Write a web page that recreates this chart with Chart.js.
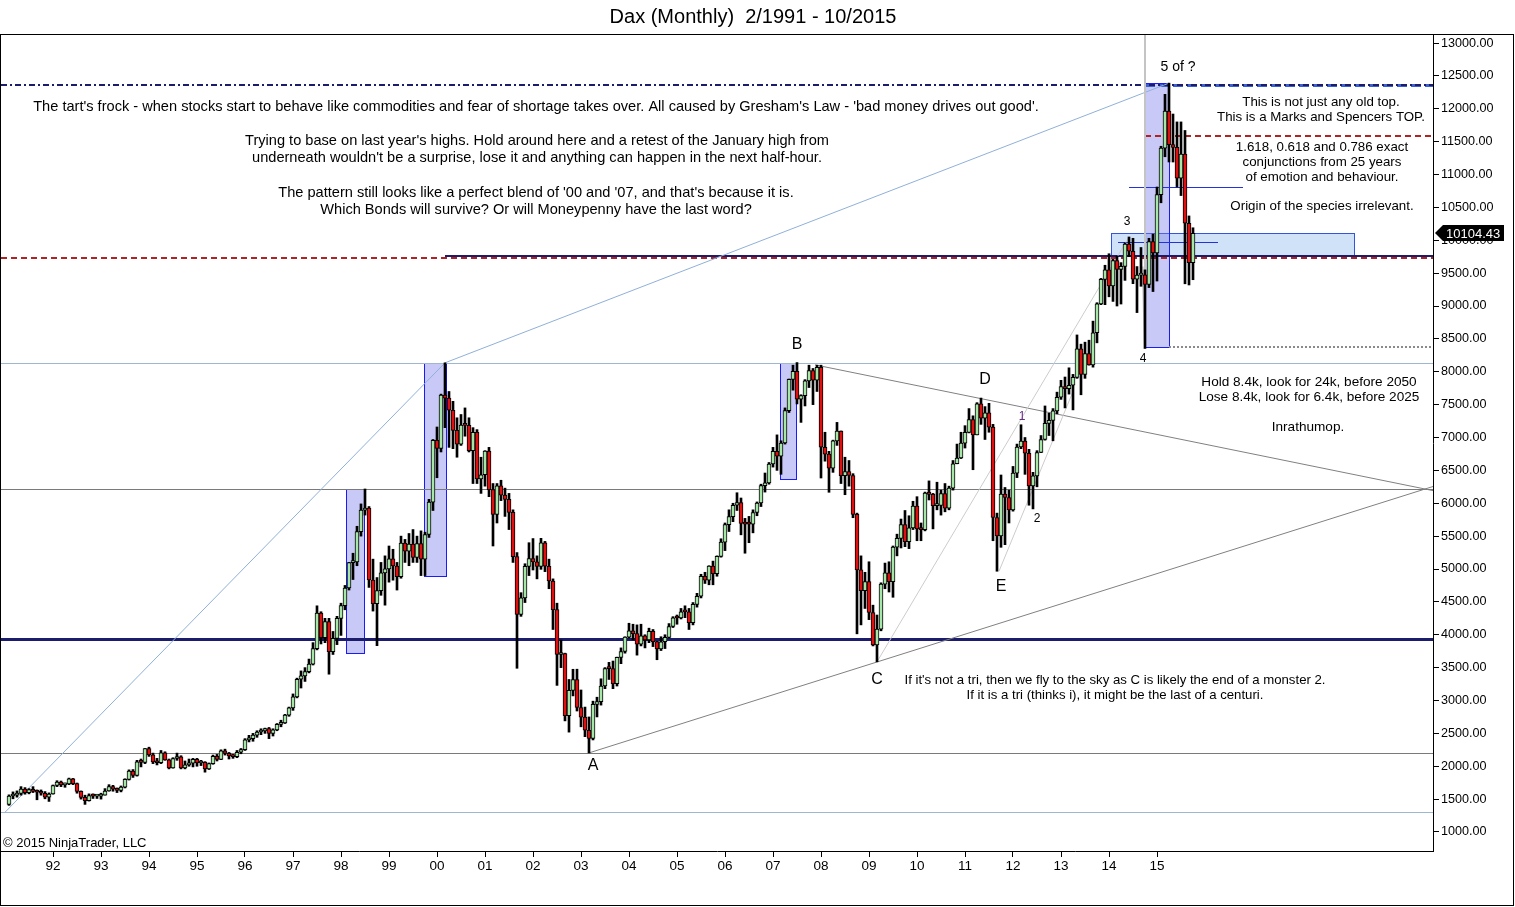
<!DOCTYPE html>
<html>
<head>
<meta charset="utf-8">
<title>Dax (Monthly)</title>
<script src="https://cdn.jsdelivr.net/npm/chart.js@4.4.0/dist/chart.umd.min.js"></script>
<style>
  html,body{margin:0;padding:0;background:#fff;}
  #wrap{width:1515px;height:907px;}
</style>
</head>
<body>
<div id="wrap"><canvas id="dax" width="1515" height="907"></canvas></div>
<script>
// Dados mensais 2/1991 - 10/2015 (uma linha por ano)
const opens = [
  1420,1547,1562,1585,1651,1598,1645,1618,1605,1589,1531,
  1578,1707,1761,1716,1730,1807,1735,1618,1527,1478,1553,1545,
  1545,1562,1624,1692,1650,1634,1683,1800,1925,1859,2068,2058,
  2267,2174,2065,2053,2204,2097,1975,2118,2143,1973,2020,2046,
  2107,2050,2058,1960,2041,2149,2105,2235,2195,2158,2146,2213,
  2254,2402,2418,2473,2521,2538,2573,2500,2553,2637,2658,2778,
  2889,3056,3323,3375,3438,3554,3788,4330,3955,4199,3744,3944,
  4250,4442,4711,5096,5107,5569,5896,5926,4833,4474,4671,4941,
  5002,5154,5046,4884,5394,5273,5378,5175,5386,5150,5525,6017,
  6958,6835,7644,7599,7414,7109,6898,7189,7185,6798,7077,6372,
  6434,6795,6208,5830,6265,6123,6058,5862,5188,4308,4560,5040,
  5160,5108,5039,5397,5042,4818,4383,3700,3712,2769,3153,3320,
  2893,2747,2547,2424,2942,2983,3221,3487,3484,3257,3655,3745,
  3965,4058,4018,3857,3985,3921,4052,3895,3785,3893,3960,4126,
  4256,4255,4350,4349,4185,4461,4586,4887,4830,5044,4929,5193,
  5408,5674,5797,5970,6009,5692,5683,5682,5859,6004,6269,6309,
  6597,6789,6715,6917,7409,7883,8007,7584,7638,7862,8019,7871,
  8067,6852,6748,6535,6949,7097,6418,6480,6422,5831,4988,4669,
  4810,4338,3844,4085,4770,4941,4809,5332,5465,5675,5415,5625,
  5957,5608,5598,6154,6136,5965,5966,6148,5925,6229,6601,6688,
  6914,7077,7273,7041,7514,7294,7376,7159,5784,5502,6141,6088,
  5898,6458,6856,6947,6761,6264,6416,6772,6970,7216,7260,7406,
  7612,7776,7742,7795,7914,8349,7959,8276,8103,8594,9033,9406,
  9552,9306,9692,9556,9603,9943,9833,9407,9470,9474,9327,9980,
  9806,10694,11402,11966,11454,11414,10945,11309,10259,9660
];
const highs = [
  1565,1610,1625,1690,1675,1660,1690,1640,1640,1615,1595,
  1715,1780,1775,1745,1820,1815,1745,1625,1560,1580,1580,1570,
  1590,1660,1720,1710,1670,1700,1810,1945,1950,2090,2110,2270,
  2290,2200,2120,2240,2220,2110,2130,2200,2160,2080,2110,2120,
  2120,2090,2070,2050,2170,2180,2250,2260,2210,2180,2240,2270,
  2420,2470,2500,2540,2570,2580,2590,2570,2650,2700,2790,2900,
  3100,3340,3450,3500,3630,3880,4440,4350,4250,4250,4050,4280,
  4480,4750,5100,5240,5650,5990,6217,5950,5150,4870,5100,5200,
  5350,5300,5100,5500,5450,5540,5600,5500,5580,5560,6060,6970,
  7160,7660,8136,7700,7550,7300,7350,7450,7300,7150,7120,6700,
  6800,6850,6300,6300,6350,6230,6150,5900,5250,4640,5080,5400,
  5463,5200,5467,5420,5150,4850,4480,3920,3720,3320,3475,3476,
  3160,2900,2750,2990,3050,3330,3500,3580,3600,3660,3800,3970,
  4175,4160,4150,4160,4000,4100,4080,3900,3970,4000,4170,4275,
  4300,4400,4440,4400,4490,4630,4920,4950,5050,5120,5200,5460,
  5700,5900,6000,6160,6080,5770,5800,5900,6020,6290,6460,6620,
  6850,7040,6950,7450,7890,8100,8140,7650,7880,8100,8050,8100,
  8100,7080,6790,6960,7230,7100,6700,6650,6450,5850,5200,4950,
  5110,4450,4300,4790,5090,5110,5350,5530,5760,5890,5810,6030,
  6100,5700,6170,6340,6150,6320,6200,6300,6260,6650,6900,7080,
  7180,7440,7330,7530,7600,7470,7520,7200,5850,6430,6240,6200,
  6560,6900,7194,7000,6820,6470,6800,7030,7480,7370,7440,7690,
  7870,7920,8060,7960,8560,8420,8450,8480,8770,9050,9420,9620,
  9795,9710,9760,9660,9960,10050,10030,9600,9890,9550,10030,10093,
  10810,11430,12220,12390,11920,11800,11800,11670,10370,10190
];
const lows = [
  1405,1505,1530,1560,1575,1580,1600,1490,1560,1505,1465,
  1575,1690,1690,1680,1720,1720,1590,1500,1420,1470,1510,1510,
  1500,1560,1620,1620,1600,1610,1670,1790,1830,1850,1990,2040,
  2150,2040,2020,2040,2090,1960,1970,2090,1960,1960,2000,1990,
  2000,2010,1910,1950,2030,2080,2100,2170,2110,2120,2130,2190,
  2240,2370,2380,2440,2480,2500,2420,2460,2540,2600,2650,2760,
  2850,3040,3190,3290,3420,3540,3770,3860,3880,3400,3700,3850,
  3990,4380,4680,4840,5050,5500,5820,4720,4360,3834,4600,4450,
  4800,4830,4680,4860,5100,5050,5100,5100,4900,4900,5480,5890,
  6388,6780,7150,6850,6830,6700,6880,7020,6780,6300,6300,6150,
  6260,6100,5350,5700,6040,5800,5600,5100,3490,4280,4490,4900,
  4985,4850,4995,4960,4700,4080,3230,3500,2690,2519,3070,2840,
  2600,2450,2203,2400,2750,2930,3180,3320,3180,3220,3560,3720,
  3950,3920,3690,3830,3800,3880,3820,3620,3760,3790,3950,4110,
  4160,4240,4260,4080,4150,4420,4560,4780,4760,4760,4890,5180,
  5280,5570,5720,5890,5520,5240,5400,5550,5810,5950,6170,6290,
  6550,6500,6440,6900,7380,7720,7510,7230,7480,7760,7500,7700,
  6384,6640,6167,6470,6880,6300,6130,6260,5780,4014,4150,4400,
  4230,3830,3588,4060,4700,4650,4570,5200,5320,5340,5310,5600,
  5430,5430,5580,6050,5610,5900,5820,5870,5900,6200,6600,6680,
  6840,7070,6510,7040,7200,6970,7080,5430,4966,5330,5370,5700,
  5880,6390,6830,6440,5970,5914,6250,6770,6960,7030,6950,7360,
  7580,7450,7660,7420,7900,7650,7900,8100,8070,8440,9020,9020,
  9140,9070,9000,9030,9390,9750,9340,8900,9300,8355,9280,9220,
  9380,10570,11270,11190,11190,10810,10680,9338,9320,9400
];
const closes = [
  1547,1562,1585,1651,1598,1645,1618,1605,1589,1531,1578,
  1707,1761,1716,1730,1807,1735,1618,1527,1478,1553,1545,1545,
  1562,1624,1692,1650,1634,1683,1800,1925,1859,2068,2058,2267,
  2174,2065,2053,2204,2097,1975,2118,2143,1973,2020,2046,2107,
  2050,2058,1960,2041,2149,2105,2235,2195,2158,2146,2213,2254,
  2402,2418,2473,2521,2538,2573,2500,2553,2637,2658,2778,2889,
  3056,3323,3375,3438,3554,3788,4330,3955,4199,3744,3944,4250,
  4442,4711,5096,5107,5569,5896,5926,4833,4474,4671,4941,5002,
  5154,5046,4884,5394,5273,5378,5175,5386,5150,5525,6017,6958,
  6835,7644,7599,7414,7109,6898,7189,7185,6798,7077,6372,6434,
  6795,6208,5830,6265,6123,6058,5862,5188,4308,4560,5040,5160,
  5108,5039,5397,5042,4818,4383,3700,3712,2769,3153,3320,2893,
  2747,2547,2424,2942,2983,3221,3487,3484,3257,3655,3745,3965,
  4058,4018,3857,3985,3921,4052,3895,3785,3893,3960,4126,4256,
  4255,4350,4349,4185,4461,4586,4887,4830,5044,4929,5193,5408,
  5674,5797,5970,6009,5692,5683,5682,5859,6004,6269,6309,6597,
  6789,6715,6917,7409,7883,8007,7584,7638,7862,8019,7871,8067,
  6852,6748,6535,6949,7097,6418,6480,6422,5831,4988,4669,4810,
  4338,3844,4085,4770,4941,4809,5332,5465,5675,5415,5625,5957,
  5608,5598,6154,6136,5965,5966,6148,5925,6229,6601,6688,6914,
  7077,7273,7041,7514,7294,7376,7159,5784,5502,6141,6088,5898,
  6458,6856,6947,6761,6264,6416,6772,6970,7216,7260,7406,7612,
  7776,7742,7795,7914,8349,7959,8276,8103,8594,9033,9406,9552,
  9306,9692,9556,9603,9943,9833,9407,9470,9474,9327,9980,9806,
  10694,11402,11966,11454,11414,10945,11309,10259,9660,10104.43
];

// Eixos
const yearLabels = ['92','93','94','95','96','97','98','99','00','01','02','03',
                    '04','05','06','07','08','09','10','11','12','13','14','15'];
const yearMonths = [11,23,35,47,59,71,83,95,107,119,131,143,
                    155,167,179,191,203,215,227,239,251,263,275,287];
const priceTicks = [1000,1500,2000,2500,3000,3500,4000,4500,5000,5500,6000,6500,
                    7000,7500,8000,8500,9000,9500,10000,10500,11000,11500,12000,12500,13000];
const lastPrice = 10104.43;

// Linhas horizontais: [nivel, mes ini, mes fim, cor, largura, tracejado]
const levelLines = [
  [8136, -2, 356, '#9fb6cf', 1, []],
  [6217, -2, 356, '#7a7a7a', 1, []],
  [2203, -2, 356, '#7a7a7a', 1, []],
  [1304, -2, 356, '#9fb6cf', 1, []],
  [3935, -2, 356, '#1c1c6c', 3, []],
  [9737, -2, 356, '#b22222', 2, [6,4]],
  [9760, 109, 356, '#1c1c6c', 2, []],
  [12362, 284, 356, '#3a5fd0', 3, [10,4]],
  [12362, -2, 356, '#1c1c6c', 2, [6,3,2,3]],
  [11586, 284, 356, '#b22222', 2, [6,4]],
  [8376, 290, 356, '#8a8a8a', 2, [2,2]],
  [10810, 280, 308.5, '#2233dd', 1, []],
  [9973, 277.25, 302.25, '#2233dd', 1, []]
];
// Caixas: [mes ini, mes fim, topo, base, tipo]
const boxes = [
  [275.5, 336.25, 10110, 9760, 'light'],
  [84.25, 88.75, 6217, 3722, 'purple'],
  [103.75, 109.25, 8136, 4894, 'purple'],
  [192.75, 196.75, 8136, 6369, 'purple'],
  [284, 290, 12390, 8376, 'purple']
];
// Retas: [mes1, valor1, mes2, valor2, cor, largura]
const trendLines = [
  [-1, 1300, 109, 8136, '#8fb0d8', 1],
  [109, 8136, 290, 12390, '#8fb0d8', 1],
  [145, 2203, 356, 6255, '#808080', 1],
  [201.5, 8105, 356, 6192, '#808080', 1],
  [217, 3588, 280, 10050, '#cccccc', 1],
  [247.5, 4966, 266, 7700, '#cccccc', 1],
  [283.4, 9600, 284, 8355, '#cccccc', 2],
  [284, 8376, 284, 13122, '#c4c4c4', 2]
];
// Rotulos das ondas: [texto, mes, valor, tamanho, cor]
const waveLabels = [
  ['A', 146, 2004, 16, '#000'],
  ['B', 197, 8407, 16, '#000'],
  ['C', 217, 3312, 16, '#000'],
  ['D', 244, 7875, 16, '#000'],
  ['E', 248, 4726, 16, '#000'],
  ['1', 253.25, 7312, 12, '#6a2a8a'],
  ['2', 257, 5760, 12, '#000'],
  ['3', 279.5, 10278, 12, '#000'],
  ['4', 283.5, 8194, 12, '#000'],
  ['5 of ?', 292.25, 12635, 14, '#000']
];
// Comentarios: [texto, x centro, y, tamanho]
const notes = [
  ["The tart's frock - when stocks start to behave like commodities and fear of shortage takes over. All caused by Gresham's Law - 'bad money drives out good'.", 536, 107, 14.6],
  ["Trying to base on last year's highs. Hold around here and a retest of the January high from", 537, 141, 14.6],
  ["underneath wouldn't be a surprise, lose it and anything can happen in the next half-hour.", 537, 158, 14.6],
  ["The pattern still looks like a perfect blend of '00 and '07, and that's because it is.", 536, 193, 14.6],
  ["Which Bonds will survive? Or will Moneypenny have the last word?", 536, 210, 14.6],
  ["This is not just any old top.", 1321, 102, 13.3],
  ["This is a Marks and Spencers TOP.", 1321, 117, 13.3],
  ["1.618, 0.618 and 0.786 exact", 1322, 147, 13.3],
  ["conjunctions from 25 years", 1322, 162, 13.3],
  ["of emotion and behaviour.", 1322, 177, 13.3],
  ["Origin of the species irrelevant.", 1322, 206, 13.3],
  ["Hold 8.4k, look for 24k, before 2050", 1309, 382, 13.6],
  ["Lose 8.4k, look for 6.4k, before 2025", 1309, 397, 13.6],
  ["Inrathumop.", 1308, 427, 13.6],
  ["If it's not a tri, then we fly to the sky as C is likely the end of a monster 2.", 1115, 680, 13.2],
  ["If it is a tri (thinks i), it might be the last of a centuri.", 1115, 695, 13.2]
];

const FONT = '"Liberation Sans", Arial, sans-serif';
const months = closes.map((c, i) => i);

// Desenho das anotacoes
const annotations = {
  id: 'annotations',
  beforeDatasetsDraw(chart) {
    const {ctx, chartArea: a, scales: {x, y}} = chart;
    ctx.save();
    ctx.beginPath();
    ctx.rect(a.left, a.top, a.right - a.left, a.bottom - a.top);
    ctx.clip();
    boxes.forEach(([m1, m2, top, bot, kind]) => {
      const x1 = Math.round(x.getPixelForValue(m1)) + 0.5, x2 = Math.round(x.getPixelForValue(m2)) + 0.5;
      const y1 = Math.round(y.getPixelForValue(top)) + 0.5, y2 = Math.round(y.getPixelForValue(bot)) + 0.5;
      ctx.fillStyle = kind === 'light' ? 'rgba(150,190,240,0.45)' : 'rgba(120,120,235,0.4)';
      ctx.fillRect(x1, y1, x2 - x1, y2 - y1);
      ctx.strokeStyle = kind === 'light' ? '#3355dd' : '#1a1aff';
      ctx.lineWidth = 1;
      ctx.strokeRect(x1, y1, x2 - x1, y2 - y1);
    });
    levelLines.forEach(([v, m1, m2, color, w, dash]) => {
      const py = Math.round(y.getPixelForValue(v)) + (w % 2 ? 0.5 : 0);
      ctx.strokeStyle = color; ctx.lineWidth = w; ctx.setLineDash(dash);
      ctx.beginPath();
      ctx.moveTo(x.getPixelForValue(m1), py);
      ctx.lineTo(x.getPixelForValue(m2), py);
      ctx.stroke();
    });
    ctx.setLineDash([]);
    trendLines.forEach(([m1, v1, m2, v2, color, w]) => {
      ctx.strokeStyle = color; ctx.lineWidth = w;
      ctx.beginPath();
      ctx.moveTo(x.getPixelForValue(m1), y.getPixelForValue(v1));
      ctx.lineTo(x.getPixelForValue(m2), y.getPixelForValue(v2));
      ctx.stroke();
    });
    ctx.restore();
  },
  afterDraw(chart) {
    const {ctx, scales: {x, y}} = chart;
    ctx.save();
    ctx.textAlign = 'center';
    ctx.textBaseline = 'middle';
    waveLabels.forEach(([t, m, v, size, color]) => {
      ctx.font = size + 'px ' + FONT;
      ctx.fillStyle = color;
      ctx.fillText(t, x.getPixelForValue(m), y.getPixelForValue(v));
    });
    ctx.fillStyle = '#000';
    notes.forEach(([t, cx, cy, size]) => {
      ctx.font = size + 'px ' + FONT;
      ctx.fillText(t, cx, cy);
    });
    // titulo
    ctx.font = '20px ' + FONT;
    ctx.fillText('Dax (Monthly)  2/1991 - 10/2015', 753, 17);
    // copyright
    ctx.textAlign = 'left';
    ctx.font = '13px ' + FONT;
    ctx.fillText('\u00a9 2015 NinjaTrader, LLC', 3, 843);
    // marcador do ultimo preco
    const py = Math.round(y.getPixelForValue(lastPrice));
    const x0 = chart.chartArea.right + 2;
    ctx.fillStyle = '#000';
    ctx.beginPath();
    ctx.moveTo(x0, py);
    ctx.lineTo(x0 + 8, py - 8);
    ctx.lineTo(x0 + 69, py - 8);
    ctx.lineTo(x0 + 69, py + 8);
    ctx.lineTo(x0 + 8, py + 8);
    ctx.closePath();
    ctx.fill();
    ctx.fillStyle = '#fff';
    ctx.font = '13px ' + FONT;
    ctx.fillText(lastPrice.toFixed(2), x0 + 11, py + 1);
    // moldura
    ctx.strokeStyle = '#000';
    ctx.lineWidth = 1;
    ctx.strokeRect(0.5, 34.5, 1513, 871);
    ctx.restore();
  }
};

// Grafico de candles (corpo + pavio como barras flutuantes)
const ctx = document.getElementById('dax').getContext('2d');
const chart = new Chart(ctx, {
  type: 'bar',
  data: {
    datasets: [
      {
        label: 'wick',
        data: months.map(i => ({x: i, y: [lows[i], highs[i]]})),
        backgroundColor: '#000',
        barThickness: 2,
        grouped: false,
        order: 2
      },
      {
        label: 'body',
        data: months.map(i => ({x: i, y: [opens[i], closes[i]]})),
        backgroundColor: months.map(i => closes[i] >= opens[i] ? '#a6e6a6' : '#e01010'),
        borderColor: '#000',
        borderWidth: 1,
        borderSkipped: false,
        barThickness: 4,
        minBarLength: 2,
        grouped: false,
        order: 1
      }
    ]
  },
  options: {
    responsive: false,
    animation: false,
    devicePixelRatio: 1,
    layout: {padding: {top: 35, left: 1, right: 0, bottom: 0}},
    plugins: {legend: {display: false}, tooltip: {enabled: false}, title: {display: false}},
    scales: {
      x: {
        type: 'linear',
        min: -2,
        max: 356,
        offset: false,
        grid: {offset: false, drawOnChartArea: false, drawTicks: true, tickLength: 6, color: '#000'},
        border: {display: true, color: '#000'},
        afterBuildTicks: s => { s.ticks = yearMonths.map(v => ({value: v})); },
        afterFit: s => { s.height = 56; },
        ticks: {
          autoSkip: false, maxRotation: 0, padding: 1, color: '#000',
          font: {family: FONT, size: 13.5},
          callback: v => yearLabels[yearMonths.indexOf(v)]
        }
      },
      y: {
        type: 'linear',
        position: 'right',
        min: 711,
        max: 13122,
        grid: {drawOnChartArea: false, drawTicks: true, tickLength: 6, color: '#000'},
        border: {display: true, color: '#000'},
        afterBuildTicks: s => { s.ticks = priceTicks.map(v => ({value: v})); },
        afterFit: s => { s.width = 82; },
        ticks: {
          padding: 2, color: '#000',
          font: {family: FONT, size: 12.6},
          callback: v => v.toFixed(2)
        }
      }
    }
  },
  plugins: [annotations]
});
</script>
</body>
</html>
